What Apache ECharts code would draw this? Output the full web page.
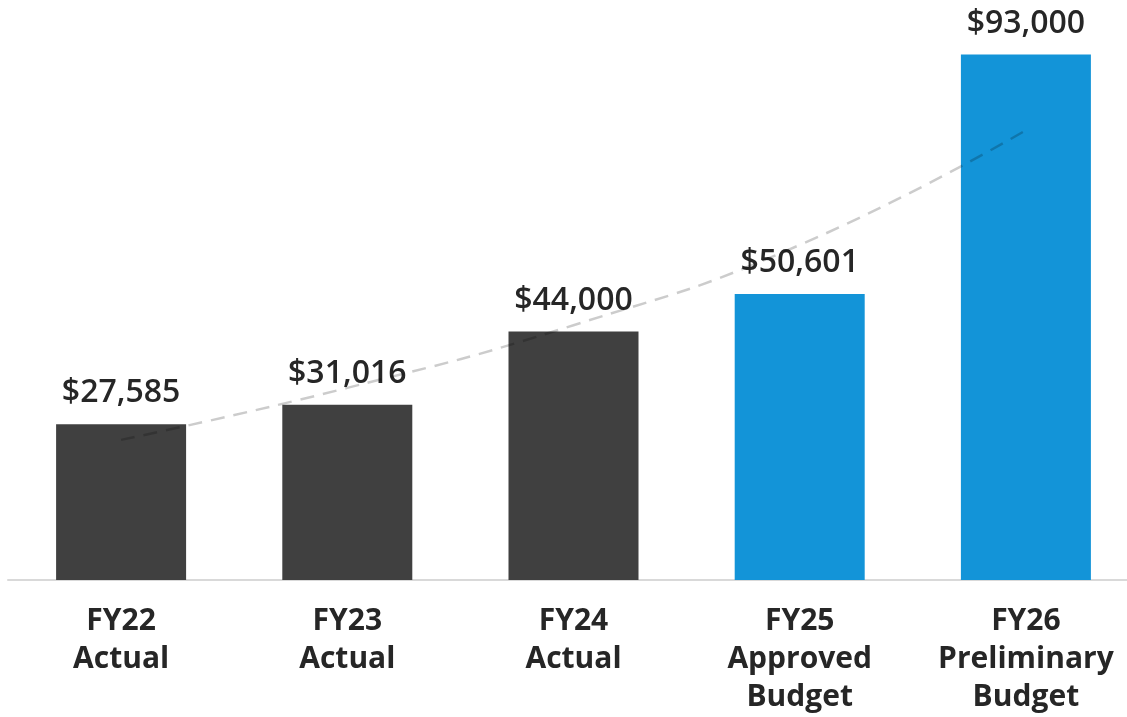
<!DOCTYPE html>
<html>
<head>
<meta charset="utf-8">
<script src="https://cdn.jsdelivr.net/npm/echarts@6/dist/echarts.min.js"></script>
<style>
  html, body { margin: 0; padding: 0; background: #fff; }
  #chart { width: 1127px; height: 717px; }
</style>
</head>
<body>
<div id="chart"></div>
<script>
// categories and values
const categories = ['FY22\nActual', 'FY23\nActual', 'FY24\nActual', 'FY25\nApproved\nBudget', 'FY26\nPreliminary\nBudget'];
const kinds = ['actual', 'actual', 'actual', 'budget', 'budget'];
const amounts = [27585, 31016, 44000, 50601, 93000];
// dashed trend line, estimated at each bar centre
const trend = [24800, 34000, 45100, 59300, 79600];

const COLOR_ACTUAL = '#404040';
const COLOR_BUDGET = '#1394d8';
const FONT = '"Open Sans", "Noto Sans", sans-serif';

const chart = echarts.init(document.getElementById('chart'));

const option = {
    animation: false,
    grid: { left: 8, width: 1131, top: 15, bottom: 137, containLabel: false, outerBoundsMode: 'none' },
    xAxis: {
        type: 'category',
        data: categories,
        axisTick: { show: false },
        axisLine: { lineStyle: { color: '#d9d9d9', width: 2 } },
        axisLabel: {
            color: '#262626',
            fontFamily: FONT,
            fontWeight: 'bold',
            fontSize: 30,
            lineHeight: 38,
            margin: 22,
            interval: 0
        }
    },
    yAxis: {
        type: 'value',
        min: 0,
        max: 100000,
        show: false,
        splitLine: { show: false }
    },
    series: [
        {
            type: 'bar',
            barWidth: 130,
            data: amounts.map((v, i) => ({
                value: v,
                itemStyle: { color: kinds[i] === 'actual' ? COLOR_ACTUAL : COLOR_BUDGET }
            })),
            label: {
                show: true,
                position: 'top',
                distance: 15,
                color: '#262626',
                fontFamily: FONT,
                fontWeight: 600,
                fontSize: 32,
                formatter: p => '$' + p.value.toLocaleString('en-US')
            },
            z: 2
        },
        {
            type: 'line',
            data: trend,
            smooth: true,
            symbol: 'none',
            lineStyle: {
                color: 'rgba(0,0,0,0.2)',
                width: 2.5,
                type: [14, 9]
            },
            z: 3
        }
    ]
};

chart.setOption(option);
window.addEventListener('resize', () => chart.resize());
</script>
</body>
</html>
